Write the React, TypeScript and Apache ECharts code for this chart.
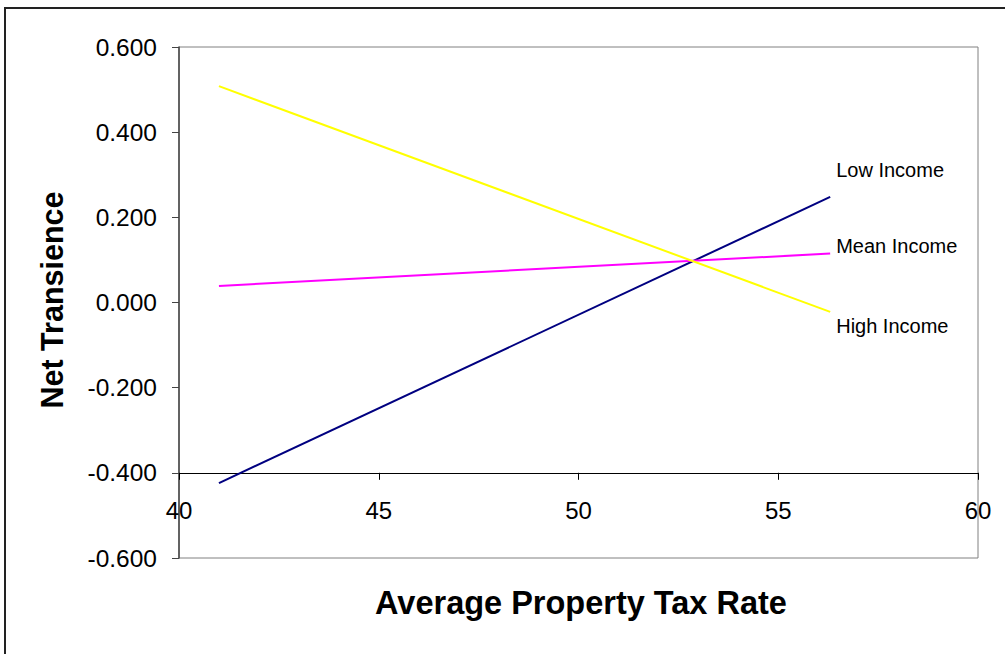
import React, { useEffect, useRef } from "react";
import * as echarts from "echarts";

const xTaxRate = [41, 56.3];
const lowIncome = [-0.424, 0.248];
const meanIncome = [0.039, 0.115];
const highIncome = [0.508, -0.022];
const seriesNames = ["Low Income", "Mean Income", "High Income"];
const xTitle = "Average Property Tax Rate";
const yTitle = "Net Transience";

export default function App() {
  const ref = useRef<HTMLDivElement>(null);
  useEffect(() => {
    if (!ref.current) return;
    const chart = echarts.init(ref.current, null, { renderer: "svg" });
    const font = "Arial, 'Liberation Sans', sans-serif";
    const pairs = (ys: number[]) => xTaxRate.map((x, i) => [x, ys[i]]);
    const mk = (name: string, ys: number[], color: string, off: number[]) => ({
      type: "line",
      name,
      data: pairs(ys),
      symbol: "none",
      lineStyle: { color, width: 2 },
      itemStyle: { color },
      endLabel: {
        show: true,
        formatter: name,
        color: "#000",
        fontFamily: font,
        fontSize: 20,
        distance: 6,
        offset: off,
      },
    });
    chart.setOption({
      animation: false,
      backgroundColor: "#fff",
      grid: {
        left: 179,
        top: 47,
        width: 799,
        height: 511,
        show: true,
        borderColor: "#808080",
        borderWidth: 1,
        backgroundColor: "transparent",
      },
      xAxis: {
        type: "value",
        min: 40,
        max: 60,
        interval: 5,
        position: "bottom",
        offset: -85.2,
        axisLine: { show: true, onZero: false, lineStyle: { color: "#000", width: 1 } },
        axisTick: { show: true, inside: false, length: 7, lineStyle: { color: "#000" } },
        axisLabel: { color: "#000", fontFamily: font, fontSize: 24, margin: 26 },
        splitLine: { show: false },
      },
      yAxis: {
        type: "value",
        min: -0.6,
        max: 0.6,
        interval: 0.2,
        axisLine: { show: true, lineStyle: { color: "#444", width: 1.5 } },
        axisTick: { show: true, inside: false, length: 7, lineStyle: { color: "#444" } },
        axisLabel: {
          color: "#000",
          fontFamily: font,
          fontSize: 24.5,
          margin: 22,
          formatter: (v: number) => v.toFixed(3),
        },
        splitLine: { show: false },
      },
      series: [
        mk(seriesNames[0], lowIncome, "#000080", [0, -27]),
        mk(seriesNames[1], meanIncome, "#FF00FF", [0, -8]),
        mk(seriesNames[2], highIncome, "#FFFF00", [0, 14]),
      ],
      graphic: [
        {
          type: "rect",
          shape: { x: 5, y: 8, width: 1100, height: 800 },
          style: { fill: "none", stroke: "#222", lineWidth: 2 },
          silent: true,
        },
        {
          type: "text",
          x: 52,
          y: 300,
          rotation: Math.PI / 2,
          style: {
            text: yTitle,
            fontFamily: font,
            fontWeight: "bold",
            fontSize: 30.5,
            fill: "#000",
            align: "center",
            verticalAlign: "middle",
          },
        },
        {
          type: "text",
          x: 581,
          y: 603,
          style: {
            text: xTitle,
            fontFamily: font,
            fontWeight: "bold",
            fontSize: 32.5,
            fill: "#000",
            align: "center",
            verticalAlign: "middle",
          },
        },
      ],
    });
    return () => chart.dispose();
  }, []);
  return (
    <div
      ref={ref}
      style={{ position: "fixed", left: 0, top: 0, width: 1005, height: 654 }}
    />
  );
}
